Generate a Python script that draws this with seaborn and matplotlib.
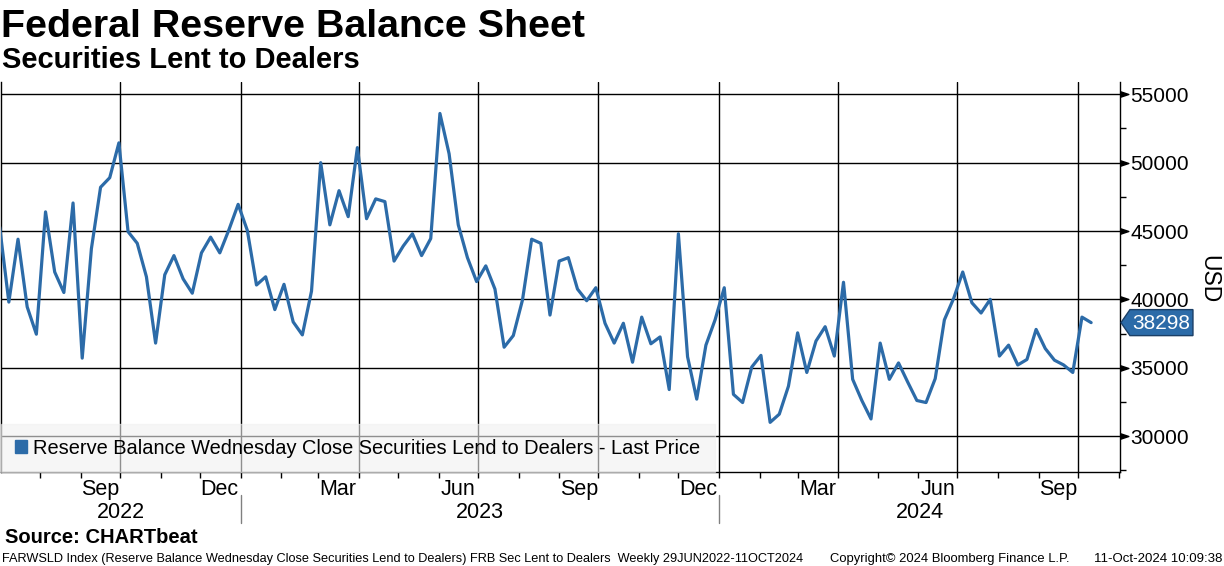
import matplotlib.dates as mdates
import matplotlib.pyplot as plt
import numpy as np
import pandas as pd
import seaborn as sns
from matplotlib.patches import Patch, Polygon
from matplotlib.transforms import IdentityTransform

# ------------------------------------------------------------------
# data: weekly values (Bloomberg weekly = Friday dates)
# ------------------------------------------------------------------
start_date = "2022-07-01"
values = [
    45300, 39800, 44400, 39450, 37450, 46400, 42000, 40500, 47050, 35700,
    43700, 48200, 48900, 51450, 44950, 44100, 41650, 36800, 41800, 43200,
    41500, 40450, 43400, 44550, 43400, 45100, 46950, 45050, 41050, 41650,
    39250, 41100, 38350, 37400, 40600, 50000, 45450, 47950, 46050, 51100,
    45900, 47350, 47150, 42800, 43900, 44800, 43200, 44450, 53600, 50650,
    45450, 43050, 41300, 42450, 40750, 36500, 37350, 39950, 44400, 44100,
    38850, 42800, 43050, 40750, 39900, 40850, 38250, 36800, 38250, 35400,
    38700, 36750, 37250, 33400, 44800, 35800, 32700, 36650, 38500, 40850,
    33050, 32450, 35050, 35900, 31000, 31600, 33650, 37550, 34650, 36950,
    38000, 35850, 41250, 34150, 32600, 31250, 36800, 34150, 35350, 33950,
    32600, 32450, 34200, 38500, 40050, 42000, 39750, 39000, 40000, 35850,
    36650, 35200, 35600, 37800, 36400, 35550, 35200, 34650, 38700, 38298,
]
month_labels = ["Sep", "Dec", "Mar", "Jun", "Sep", "Dec", "Mar", "Jun", "Sep"]
month_label_dates = ["2022-09-16", "2022-12-16", "2023-03-16", "2023-06-16",
                     "2023-09-16", "2023-12-16", "2024-03-16", "2024-06-16",
                     "2024-09-16"]
year_labels = ["2022", "2023", "2024"]
y_ticks = [30000, 35000, 40000, 45000, 50000, 55000]

series_name = "Reserve Balance Wednesday Close Securities Lend to Dealers - Last Price"
line_color = "#2c6ba8"

df = pd.DataFrame({
    "date": pd.date_range(start_date, periods=len(values), freq="7D"),
    "value": values,
})
x_left = pd.Timestamp("2022-07-02")
x_right = pd.Timestamp("2024-11-02")

# ------------------------------------------------------------------
# figure
# ------------------------------------------------------------------
sns.set_style("white")
plt.rcParams["font.family"] = ["Liberation Sans", "DejaVu Sans"]
plt.rcParams["text.color"] = "black"
plt.rcParams["xtick.color"] = "black"
plt.rcParams["ytick.color"] = "black"
plt.rcParams["axes.labelcolor"] = "black"

fig = plt.figure(figsize=(12.24, 5.66), dpi=100)
ax = fig.add_axes([0.0008, 0.1661, 0.9142, 0.689])

sns.lineplot(data=df, x="date", y="value", ax=ax, color=line_color,
             linewidth=2.3, zorder=3)

ax.set_xlim(x_left, x_right)
ax.set_ylim(27370, 55900)
ax.set_xlabel("")
ax.set_ylabel("")

# y axis on the right
ax.yaxis.tick_right()
ax.set_yticks(y_ticks)
ax.set_yticklabels([str(t) for t in y_ticks])
ax.set_yticks(np.arange(27500, 56000, 2500), minor=True)
ax.tick_params(axis="y", which="major", length=0, pad=7.5, labelsize=15,
               left=False, right=True, labelcolor="black")
ax.tick_params(axis="y", which="minor", length=4, width=1, direction="out",
               left=False, right=True, color="black")
ax.grid(axis="y", color="black", linewidth=1.0, zorder=1)
ax.plot([1.0] * len(y_ticks), y_ticks, transform=ax.get_yaxis_transform(),
        marker=[(0, -1), (3, 0), (0, 1)], ms=12, ls="none", color="black",
        clip_on=False, zorder=5)

# quarterly vertical grid lines
for d in pd.date_range("2022-10-01", "2024-10-01", freq="QS"):
    ax.axvline(d, color="black", linewidth=1.0, zorder=1)

# x axis: monthly minor ticks, month names centred in the month
ax.set_xticks(pd.to_datetime(month_label_dates))
ax.set_xticklabels(month_labels)
ax.xaxis.set_minor_locator(mdates.MonthLocator())
ax.tick_params(axis="x", which="major", length=0, pad=5, labelsize=15.5,
               labelcolor="black")
ax.tick_params(axis="x", which="minor", length=4, width=1, direction="out",
               bottom=True, color="black")

for side in ["left", "right", "bottom"]:
    ax.spines[side].set_visible(True)
    ax.spines[side].set_color("black")
    ax.spines[side].set_linewidth(1.0)
ax.spines["top"].set_visible(False)

# year labels and separators under the axis
year_starts = [x_left, pd.Timestamp("2023-01-01"), pd.Timestamp("2024-01-01"), x_right]
xtrans = ax.get_xaxis_transform()
for i, label in enumerate(year_labels):
    mid = year_starts[i] + (year_starts[i + 1] - year_starts[i]) / 2
    ax.text(mid, -0.078, label, transform=xtrans, ha="center", va="top",
            fontsize=15.5)
for d in year_starts[1:3]:
    ax.plot([d, d], [-0.059, -0.131], transform=xtrans, color="#808080",
            linewidth=1.0, clip_on=False)

# legend
handle = Patch(facecolor=line_color, edgecolor=line_color)
leg = ax.legend([handle], [series_name], loc="lower left", bbox_to_anchor=(0, 0),
                borderaxespad=0, fontsize=14.4, handlelength=0.6,
                handleheight=0.6, handletextpad=0.3, borderpad=0.72,
                frameon=True, fancybox=False, facecolor="#f0f0f0",
                edgecolor="#f0f0f0", framealpha=0.6)
leg.set_zorder(6)

# last value tag
last_val = values[-1]
px = ax.transAxes.transform((1, 0))[0]
py = ax.transData.transform((mdates.date2num(df["date"].iloc[-1]), last_val))[1]
tag = Polygon([(px + 1, py), (px + 10, py + 13), (px + 73, py + 13),
               (px + 73, py - 13), (px + 10, py - 13)], closed=True,
              facecolor=line_color, edgecolor="#1b3f66", linewidth=1.0,
              transform=IdentityTransform(), zorder=10)
fig.add_artist(tag)
fig.text(px + 41, py - 1, f"{last_val}", transform=IdentityTransform(),
         ha="center", va="center", color="white", fontsize=15, zorder=11)

fig.text(1209 / 1224, 1 - 279 / 566, "USD", rotation=270, ha="center",
         va="center", fontsize=16.5)

# titles and footer
fig.text(0.001, 1 - 37 / 566, "Federal Reserve Balance Sheet", fontsize=28.4,
         fontweight="bold", va="baseline")
fig.text(0.002, 1 - 68 / 566, "Securities Lent to Dealers", fontsize=21,
         fontweight="bold", va="baseline")
fig.text(5 / 1224, 1 - 543 / 566, "Source: CHARTbeat", fontsize=14.5,
         fontweight="bold", va="baseline")
fig.text(2 / 1224, 1 - 562 / 566,
         "FARWSLD Index (Reserve Balance Wednesday Close Securities Lend to Dealers) "
         "FRB Sec Lent to Dealers  Weekly 29JUN2022-11OCT2024",
         fontsize=9.15, va="baseline")
fig.text(830 / 1224, 1 - 562 / 566, "Copyright\u00a9 2024 Bloomberg Finance L.P.",
         fontsize=9.4, va="baseline")
fig.text(1222 / 1224, 1 - 562 / 566, "11-Oct-2024 10:09:38", fontsize=9.5,
         va="baseline", ha="right")

fig.savefig("out.png", dpi=100)
plt.close(fig)
